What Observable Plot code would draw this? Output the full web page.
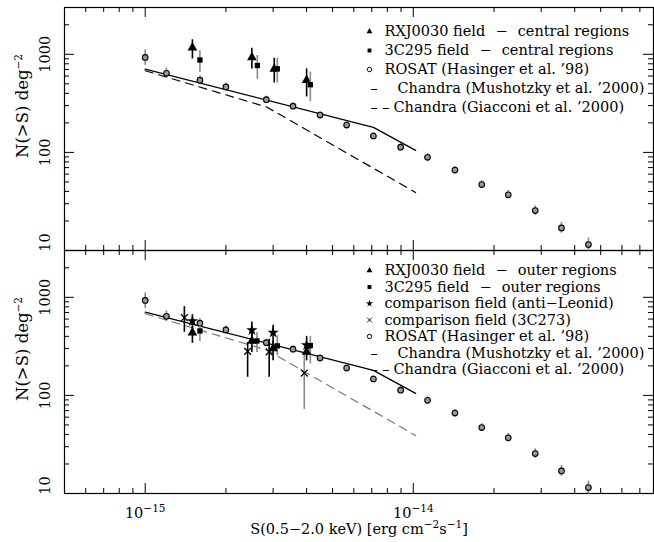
<!DOCTYPE html>
<html><head><meta charset="utf-8">
<script src="https://cdn.jsdelivr.net/npm/d3@7"></script>
<script src="https://cdn.jsdelivr.net/npm/@observablehq/plot@0.6"></script>
<style>
html,body{margin:0;padding:0;background:#fff;}
#chart{width:654px;height:542px;}
</style></head><body><div id="chart"></div>
<script>
// ---------------- data ----------------
const xMajor = [1e-15, 1e-14];
const xTickLabels = ["10^{−15}", "10^{−14}"];
const xMinor = [6e-16, 7e-16, 8e-16, 9e-16, 2e-15, 3e-15, 4e-15, 5e-15, 6e-15, 7e-15, 8e-15, 9e-15, 2e-14, 3e-14, 4e-14, 5e-14, 6e-14, 7e-14];
const yMajor = [10, 100, 1000];
const yTickLabels = ["10", "100", "1000"];
const yMinor = [20, 30, 40, 50, 60, 70, 80, 90, 200, 300, 400, 500, 600, 700, 800, 900, 2000];

// ROSAT (Hasinger et al. '98)
const rosatS  = [1.0e-15, 1.2e-15, 1.6e-15, 2.0e-15, 2.83e-15, 3.56e-15, 4.49e-15, 5.64e-15, 7.1e-15, 8.97e-15, 1.13e-14, 1.43e-14, 1.80e-14, 2.26e-14, 2.85e-14, 3.57e-14, 4.50e-14];
const rosatN  = [930, 640, 545, 465, 345, 296, 240, 190, 147, 113, 89, 66, 47, 37, 25.5, 17, 11.5];
const rosatLo = [770, 565, 490, 425, 318, 274, 222, 176, 136, 104, 82, 60.5, 43, 33.5, 22.8, 15, 9.9];
const rosatHi = [1110, 725, 605, 510, 375, 320, 260, 205, 159, 123, 97, 72, 51.5, 41, 28.5, 19.3, 13.4];

// Chandra lines
const mushS = [1e-15, 7.1e-15, 1.02e-14];
const mushN = [705, 180, 105];
const giacS = [1e-15, 2.84e-15, 1.02e-14];
const giacN = [680, 290, 39];

// Top panel: central regions
const rxjCS  = [1.5e-15, 2.5e-15, 3.03e-15, 4.0e-15];
const rxjCN  = [1170, 930, 711, 545];
const rxjCLo = [898, 708, 510, 368];
const rxjCHi = [1406, 1150, 912, 711];
const c295CS  = [1.6e-15, 2.62e-15, 3.11e-15, 4.13e-15];
const c295CN  = [875, 769, 711, 490];
const c295CLo = [658, 555, 510, 327];
const c295CHi = [1090, 971, 912, 658];

// Bottom panel: outer regions
const rxjOS  = [1.5e-15, 2.5e-15, 3.0e-15, 4.0e-15];
const rxjON  = [436, 359, 301, 278];
const rxjOLo = [339, 274, 226, 225];
const rxjOHi = [498, 437, 359, 330];
const c295OS  = [1.6e-15, 2.61e-15, 3.11e-15, 4.13e-15];
const c295ON  = [454, 359, 320, 322];
const c295OLo = [355, 274, 254, 209];
const c295OHi = [509, 437, 404, 398];
// comparison field (anti-Leonid)
const leoS  = [1.5e-15, 2.5e-15, 3.0e-15, 4.0e-15];
const leoN  = [573, 464, 437, 325];
const leoLo = [490, 370, 330, 270];
const leoHi = [665, 560, 520, 400];
// comparison field (3C273)
const c273S  = [1.4e-15, 2.41e-15, 2.9e-15, 3.92e-15];
const c273N  = [620, 281, 278, 169];
const c273Lo = [440, 153, 153, 72];
const c273Hi = [804, 346, 374, 269];

const SP = "\u2002\u2009";
const topLegendLabels = ["RXJ0030 field" + SP + "−" + SP + "central regions", "3C295 field" + SP + "−" + SP + "central regions", "ROSAT (Hasinger et al. ’98)", "Chandra (Mushotzky et al. ’2000)", "Chandra (Giacconi et al. ’2000)"];
const topLegendSymbols = ["triangle", "square", "circle", "solid", "dashed"];
const botLegendLabels = ["RXJ0030 field" + SP + "−" + SP + "outer regions", "3C295 field" + SP + "−" + SP + "outer regions", "comparison field (anti−Leonid)", "comparison field (3C273)", "ROSAT (Hasinger et al. ’98)", "Chandra (Mushotzky et al. ’2000)", "Chandra (Giacconi et al. ’2000)"];
const botLegendSymbols = ["triangle", "square", "star", "times", "circle", "solid", "dashed"];

const yTitle = "N(>S) deg^{−2}";
const xTitle = "S(0.5−2.0 keV) [erg cm^{−2}s^{−1}]";

// ---------------- layout ----------------
const W = 654, H = 542, ML = 64, MR = 1, MT = 7, MB = 49;
const frameW = W - ML - MR;
const facetH = (H - MT - MB) / 2;
const majLen = 10, minLen = 5;
const GRAY = "#8a8a8a";

function rows(panel, S, N, lo, hi) {
  return S.map((s, i) => ({panel, S: s, N: N[i], lo: lo ? lo[i] : undefined, hi: hi ? hi[i] : undefined, i}));
}

const symStyle = {
  triangle: {fill: "black", stroke: "none"},
  square: {fill: "black", stroke: "none"},
  star: {fill: "black", stroke: "none"},
  times: {fill: "none", stroke: "black", strokeWidth: 1.3},
  circle: {fill: "#999", stroke: "black", strokeWidth: 1.1}
};

function series(panel, S, N, lo, hi, symbol, r, barColor) {
  const d = rows(panel, S, N, lo, hi);
  return [
    Plot.ruleX(d, {x: "S", y1: "lo", y2: "hi", fy: "panel", stroke: barColor, strokeWidth: 1.6}),
    Plot.dot(d, {x: "S", y: "N", fy: "panel", symbol, r, ...symStyle[symbol]})
  ];
}

const marks = [];
// ticks
for (const [vals, len] of [[yMajor, majLen], [yMinor, minLen]]) {
  marks.push(Plot.tickY(vals, {y: d => d, insetRight: frameW - len, stroke: "black"}));
  marks.push(Plot.tickY(vals, {y: d => d, insetLeft: frameW - len, stroke: "black"}));
}
for (const [vals, len] of [[xMajor, majLen], [xMinor, minLen]]) {
  marks.push(Plot.tickX(vals, {x: d => d, insetBottom: facetH - len, stroke: "black"}));
  marks.push(Plot.tickX(vals, {x: d => d, insetTop: facetH - len, stroke: "black"}));
}
marks.push(Plot.frame({stroke: "black", strokeWidth: 1.2}));

// lines
for (const p of ["top", "bottom"]) {
  marks.push(Plot.line(rows(p, mushS, mushN), {x: "S", y: "N", fy: "panel", stroke: "black", strokeWidth: 1.3}));
  marks.push(Plot.line(rows(p, giacS, giacN), {x: "S", y: "N", fy: "panel", stroke: p === "top" ? "black" : "#777", strokeWidth: 1.2, strokeDasharray: "8,6"}));
}

// data points
for (const p of ["top", "bottom"]) marks.push(...series(p, rosatS, rosatN, rosatLo, rosatHi, "circle", 2.8, GRAY));
marks.push(...series("top", rxjCS, rxjCN, rxjCLo, rxjCHi, "triangle", 3.6, "black"));
marks.push(...series("top", c295CS, c295CN, c295CLo, c295CHi, "square", 3, GRAY));
marks.push(...series("bottom", c273S, c273N, c273Lo, c273Hi, "times", 3.2, (d) => d.i === 3 ? GRAY : "black"));
marks.push(...series("bottom", c295OS, c295ON, c295OLo, c295OHi, "square", 3, GRAY));
marks.push(...series("bottom", rxjOS, rxjON, rxjOLo, rxjOHi, "triangle", 3.6, "black"));
marks.push(...series("bottom", leoS, leoN, leoLo, leoHi, "star", 3.6, "black"));

// axis labels
const yLab = yMajor.map((v, i) => ({v, t: yTickLabels[i]}));
marks.push(Plot.text(yLab.filter(d => d.v > 10), {y: "v", text: "t", frameAnchor: "left", textAnchor: "middle", lineAnchor: "middle", dx: -19, rotate: -90}));
marks.push(Plot.text(yLab.filter(d => d.v === 10), {y: "v", text: "t", frameAnchor: "left", textAnchor: "middle", lineAnchor: "middle", dx: -19, dy: -8, rotate: -90}));
marks.push(Plot.text([yTitle], {text: d => d, frameAnchor: "left", textAnchor: "middle", lineAnchor: "middle", dx: -42, dy: -23, rotate: -90, fontSize: 16.5}));
marks.push(Plot.text(xMajor.map((s, i) => ({panel: "bottom", S: s, label: xTickLabels[i]})), {x: "S", text: "label", fy: "panel", frameAnchor: "bottom", textAnchor: "middle", dy: 20, lineAnchor: "middle"}));
marks.push(Plot.text([{panel: "bottom", t: xTitle}], {text: "t", fy: "panel", frameAnchor: "bottom", textAnchor: "middle", dy: 36, lineAnchor: "middle"}));

// legends
function legend(panel, labels, symbols, y0, sp) {
  labels.forEach((lab, i) => {
    const sym = symbols[i];
    const dy = y0 + i * sp;
    const d = [{panel}];
    if (sym === "solid" || sym === "dashed") {
      marks.push(Plot.text(d, {fy: "panel", frameAnchor: "top-left", dx: 306, dy, lineAnchor: "middle", textAnchor: "start", text: () => sym === "solid" ? "–" : "– –"}));
      marks.push(Plot.text(d, {fy: "panel", frameAnchor: "top-left", dx: sym === "solid" ? 333 : 329, dy, lineAnchor: "middle", textAnchor: "start", text: () => lab}));
    } else {
      marks.push(Plot.dot(d, {fy: "panel", frameAnchor: "top-left", dx: 305, dy, symbol: sym, r: 2.2, ...symStyle[sym], fill: sym === "circle" ? "none" : symStyle[sym].fill, strokeWidth: 1}));
      marks.push(Plot.text(d, {fy: "panel", frameAnchor: "top-left", dx: 320, dy, lineAnchor: "middle", textAnchor: "start", text: () => lab}));
    }
  });
}
legend("top", topLegendLabels, topLegendSymbols, 24, 19);
legend("bottom", botLegendLabels, botLegendSymbols, 20, 16.5);

const chart = Plot.plot({
  width: W, height: H,
  marginLeft: ML, marginRight: MR, marginTop: MT, marginBottom: MB,
  x: {type: "log", domain: [5e-16, 7.87e-14], axis: null},
  y: {type: "log", domain: [10, 3000], axis: null},
  fy: {domain: ["top", "bottom"], axis: null, padding: 0},
  style: {fontFamily: "'DejaVu Serif', serif", fontSize: "14.5px", background: "white", color: "black"},
  marks
});

function supify(root) {
  root.querySelectorAll("text").forEach(t => {
    if (t.querySelector("tspan")) return;
    const s = t.textContent;
    if (!s.includes("^{")) return;
    const parts = s.split(/(\^\{[^}]*\})/).filter(Boolean);
    t.textContent = "";
    let shifted = false;
    for (const p of parts) {
      const m = p.match(/^\^\{([^}]*)\}$/);
      const ts = document.createElementNS("http://www.w3.org/2000/svg", "tspan");
      if (m) { ts.textContent = m[1]; ts.setAttribute("dy", "-6"); ts.setAttribute("font-size", "10.5"); shifted = true; }
      else { ts.textContent = p; if (shifted) { ts.setAttribute("dy", "6"); shifted = false; } }
      t.appendChild(ts);
    }
  });
}
supify(chart);
document.getElementById("chart").appendChild(chart);
</script>
</body></html>
